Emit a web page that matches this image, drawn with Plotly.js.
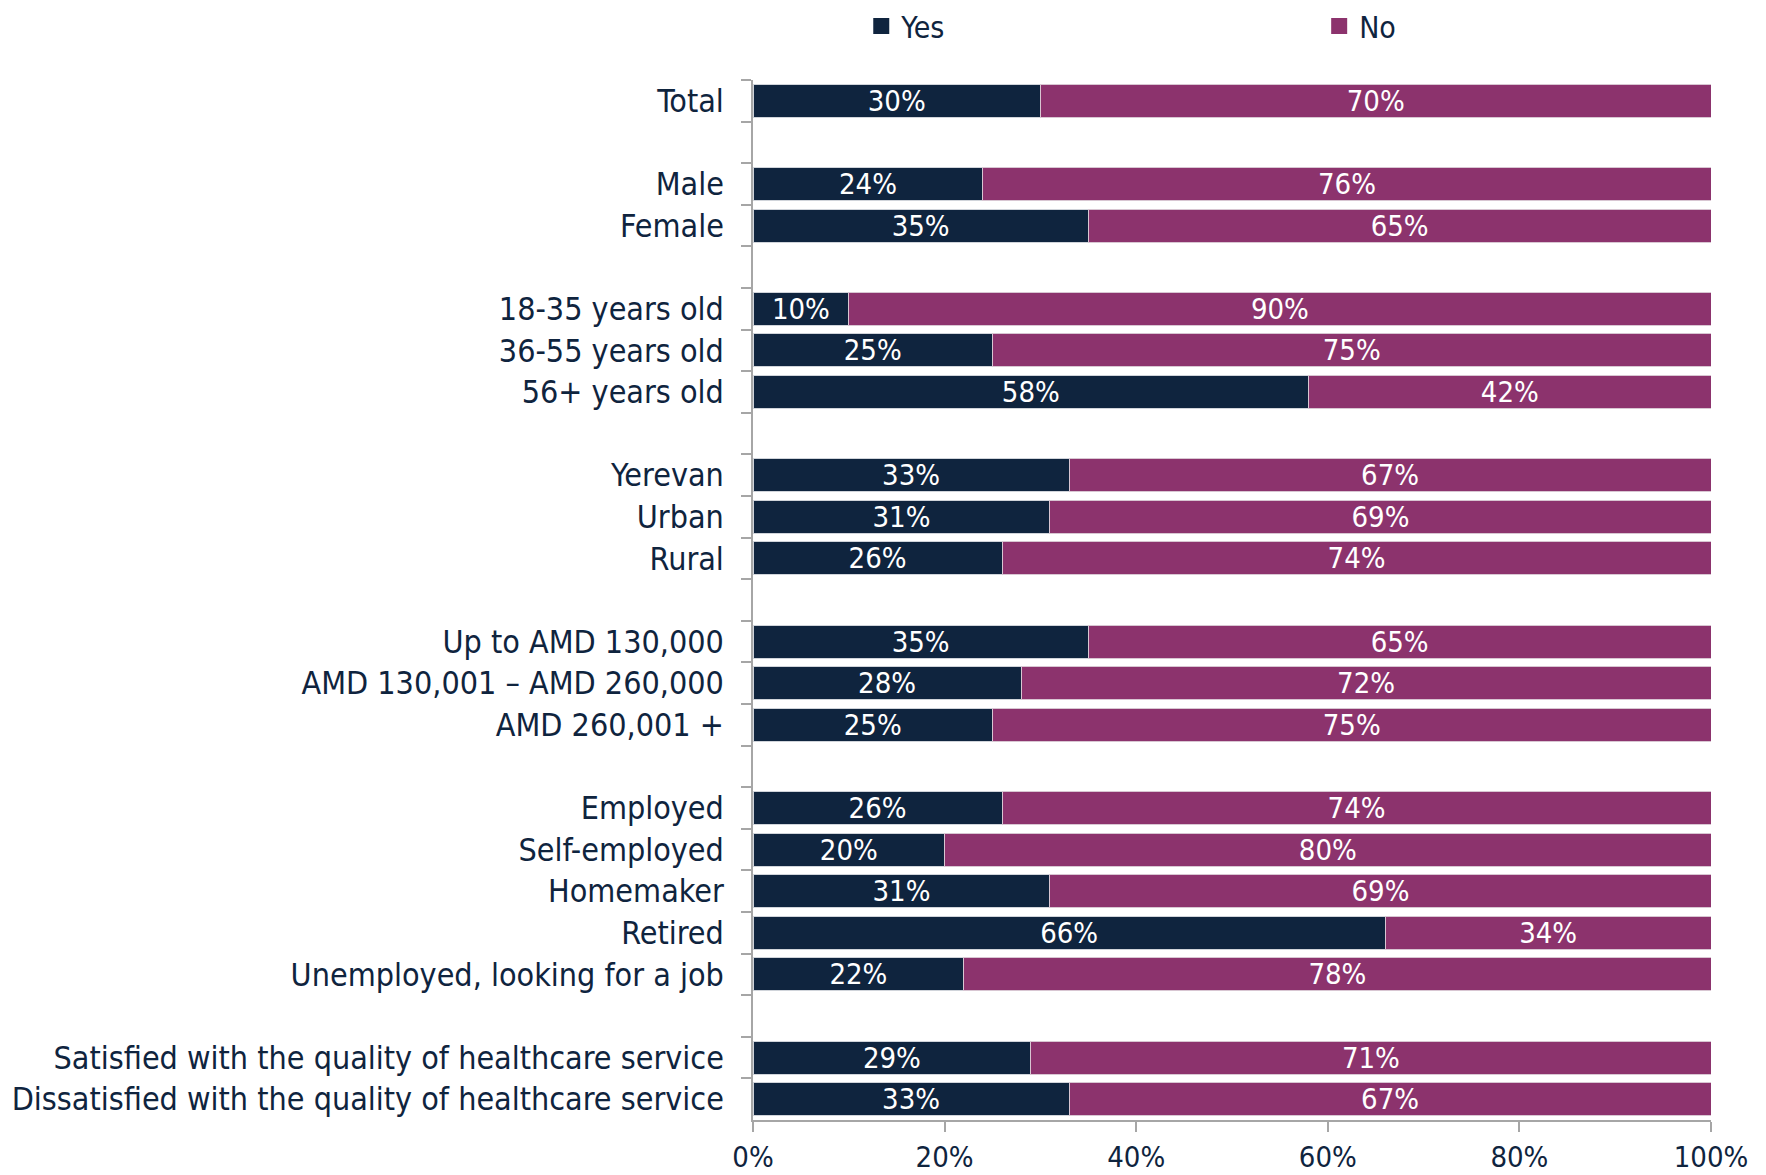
<!DOCTYPE html>
<html lang="en">
<head>
    <meta charset="UTF-8">
    <title>Yes / No by group</title>
    <script src='https://cdn.plot.ly/plotly-3.0.0.min.js'></script>
    <style>
        body { margin: 0; background: #ffffff; }
        #plot { width: 1766px; height: 1175px; }
    </style>
</head>
<body>
    <div id="plot"></div>

    <script>
        // rows from top to bottom, blank names are the gaps between groups
        const categories = [
            'Total', ' ',
            'Male', 'Female', '  ',
            '18-35 years old', '36-55 years old', '56+ years old', '   ',
            'Yerevan', 'Urban', 'Rural', '    ',
            'Up to AMD 130,000', 'AMD 130,001 – AMD 260,000', 'AMD 260,001 +', '     ',
            'Employed', 'Self-employed', 'Homemaker', 'Retired', 'Unemployed, looking for a job', '      ',
            'Satisfied with the quality of healthcare service', 'Dissatisfied with the quality of healthcare service'
        ];
        const yesValues = [30, null, 24, 35, null, 10, 25, 58, null, 33, 31, 26, null, 35, 28, 25, null, 26, 20, 31, 66, 22, null, 29, 33];
        const noValues  = [70, null, 76, 65, null, 90, 75, 42, null, 67, 69, 74, null, 65, 72, 75, null, 74, 80, 69, 34, 78, null, 71, 67];
        const xTicks = [0, 20, 40, 60, 80, 100];

        const navy = '#0f243e';
        const plum = '#8c336d';
        const axisGrey = '#a6a6a6';
        const font = 'DejaVu Sans Condensed, DejaVu Sans, sans-serif';

        function pct(v) { return v === null ? '' : v + '%'; }

        function barTrace(name, values, color, edge) {
            return {
                type: 'bar', orientation: 'h', name: name,
                y: categories, x: values,
                text: values.map(pct),
                textposition: 'inside', insidetextanchor: 'middle',
                constraintext: 'none',
                textfont: {color: '#ffffff', size: 29, family: font},
                marker: {color: color, line: {color: edge, width: 1}},
                showlegend: false,
                hoverinfo: 'x+y'
            };
        }

        // legend only: bigger squares than the bar legend gives
        function keyTrace(name, color, legend) {
            return {
                type: 'scatter', mode: 'markers', name: name,
                x: [null], y: [null],
                marker: {symbol: 'square', size: 16, color: color},
                legend: legend, hoverinfo: 'skip'
            };
        }

        const traces = [
            barTrace('Yes', yesValues, navy, '#d0d4da'),
            barTrace('No', noValues, plum, '#d8c6d2'),
            keyTrace('Yes', navy, 'legend'),
            keyTrace('No', plum, 'legend2')
        ];

        const legendBase = {
            orientation: 'h',
            yref: 'container', y: 1, yanchor: 'top',
            xanchor: 'left',
            itemwidth: 30,
            font: {size: 30, color: navy}
        };

        const layout = {
            width: 1766, height: 1175,
            margin: {l: 753, r: 55, t: 80, b: 55},
            paper_bgcolor: '#ffffff', plot_bgcolor: '#ffffff',
            font: {family: font, size: 30, color: navy},
            barmode: 'stack',
            bargap: 0.21,
            showlegend: true,
            legend: Object.assign({}, legendBase, {x: 0.113}),
            legend2: Object.assign({}, legendBase, {x: 0.591}),
            xaxis: {
                range: [0, 100],
                tickvals: xTicks,
                ticktext: xTicks.map(pct),
                ticks: 'outside', ticklen: 10, tickcolor: axisGrey, tickwidth: 1.5,
                showline: true, linecolor: axisGrey, linewidth: 1.5,
                showgrid: false, zeroline: false,
                fixedrange: true,
                tickfont: {size: 29, color: navy}
            },
            yaxis: {
                type: 'category',
                categoryorder: 'array', categoryarray: categories,
                autorange: 'reversed',
                tickson: 'boundaries',
                ticks: 'outside', ticklen: 10, tickcolor: axisGrey, tickwidth: 1.5,
                showline: true, linecolor: axisGrey, linewidth: 1.5,
                showgrid: false, zeroline: false,
                fixedrange: true,
                ticklabelstandoff: 21,
                tickfont: {size: 32, color: navy}
            }
        };

        Plotly.newPlot('plot', traces, layout, {displayModeBar: false});
    </script>
</body>
</html>
